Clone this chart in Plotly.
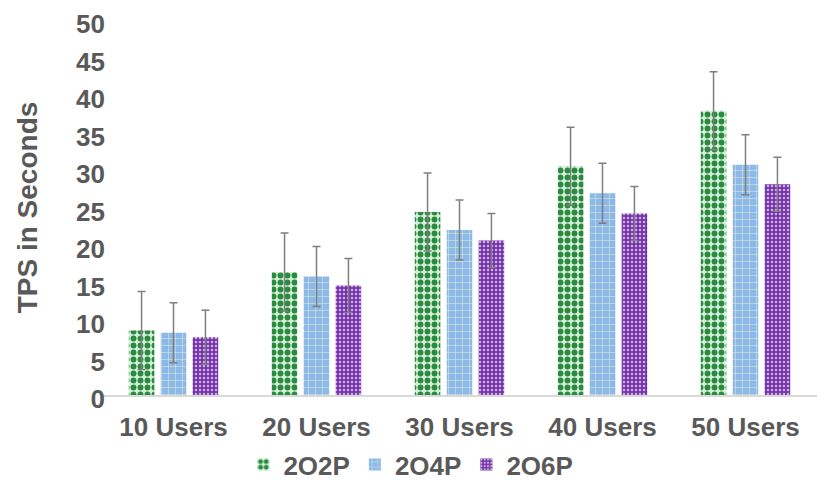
import plotly.graph_objects as go

categories = ["10 Users", "20 Users", "30 Users", "40 Users", "50 Users"]
series_names = ["2O2P", "2O4P", "2O6P"]
tps_2o2p = [8.6, 16.4, 24.4, 30.5, 37.9]
tps_2o4p = [8.3, 15.8, 22.0, 26.9, 30.7]
tps_2o6p = [7.7, 14.6, 20.6, 24.2, 28.1]
err_2o2p = [5.2, 5.2, 5.2, 5.2, 5.2]
err_2o4p = [4.0, 4.0, 4.0, 4.0, 4.0]
err_2o6p = [3.6, 3.6, 3.6, 3.6, 3.6]

FONT = "Liberation Sans, Arial, sans-serif"
TEXT_COLOR = "#595959"

styles = [
    dict(bg="#d6f0dc", fg="#2a8a3e", shape=".", size=7, solidity=0.55),
    dict(bg="#8cb8ea", fg="#dcefcf", shape="+", size=7, solidity=0.15),
    dict(bg="#7434a8", fg="#cfaeea", shape=".", size=4, solidity=0.3),
]

fig = go.Figure()
for name, vals, errs, st in zip(series_names,
                                [tps_2o2p, tps_2o4p, tps_2o6p],
                                [err_2o2p, err_2o4p, err_2o6p],
                                styles):
    fig.add_trace(go.Bar(
        x=categories, y=vals, name=name,
        marker=dict(
            color=st["bg"],
            line=dict(width=0),
            pattern=dict(shape=st["shape"], fgcolor=st["fg"], bgcolor=st["bg"],
                         size=st["size"], solidity=st["solidity"], fillmode="replace"),
        ),
        error_y=dict(type="data", array=errs, visible=True,
                     color="#7f7f7f", thickness=1.5, width=4),
    ))

# page body adds an 8px offset, margins below allow for it
fig.update_layout(
    width=830, height=493,
    paper_bgcolor="white", plot_bgcolor="white",
    margin=dict(l=94, r=21, t=12, b=106, autoexpand=False),
    barmode="group", bargap=0.33, bargroupgap=0.2,
    font=dict(family=FONT, size=26, color=TEXT_COLOR),
    showlegend=True,
    legend=dict(orientation="h", x=0.432, xanchor="center",
                yref="container", y=0.074, yanchor="middle",
                font=dict(family=FONT, size=26, color=TEXT_COLOR, weight="bold"),
                itemwidth=30, traceorder="normal"),
)
fig.update_xaxes(
    showline=True, linecolor="#d9d9d9", linewidth=1.5, showgrid=False,
    ticks="", ticklabelstandoff=8,
    tickfont=dict(family=FONT, size=26, color=TEXT_COLOR, weight="bold"),
)
fig.update_yaxes(
    range=[0, 50], dtick=5, showgrid=False, showline=False, zeroline=False,
    ticks="", ticklabelstandoff=-4, ticklabelshift=4, ticklabeloverflow="allow",
    tickfont=dict(family=FONT, size=26, color=TEXT_COLOR, weight="bold"),
    title=dict(text="TPS in Seconds", standoff=30,
               font=dict(family=FONT, size=28, color=TEXT_COLOR, weight="bold")),
)

fig.write_html("out.html")
